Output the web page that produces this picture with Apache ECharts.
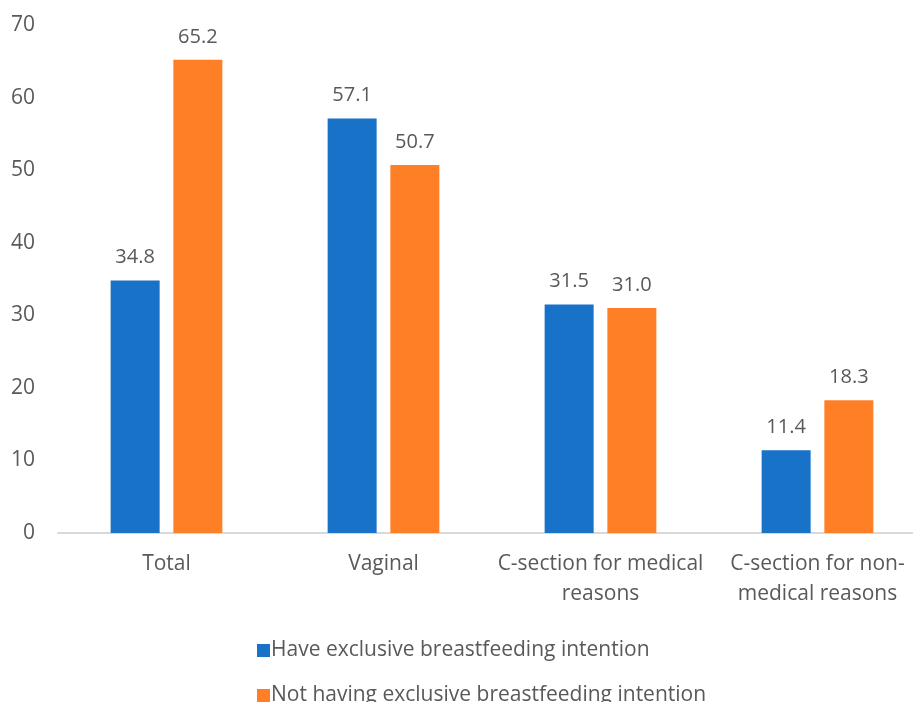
<!DOCTYPE html>
<html><head><meta charset="utf-8">
<script src="https://cdn.jsdelivr.net/npm/echarts@6/dist/echarts.min.js"></script>
<style>html,body{margin:0;padding:0;background:#fff}#c{width:913px;height:702px}</style>
</head><body><div id="c"></div>
<script>
const categories = ['Total', 'Vaginal', 'C-section for medical\nreasons', 'C-section for non-\nmedical reasons'];
const seriesNames = ['Have exclusive breastfeeding intention', 'Not having exclusive breastfeeding intention'];
const haveValues = [34.8, 57.1, 31.5, 11.4];
const notHaveValues = [65.2, 50.7, 31.0, 18.3];
const chart = echarts.init(document.getElementById('c'));
const font = '"Open Sans", sans-serif';
const lbl = {show: true, position: 'top', distance: 13, color: '#595959', fontSize: 20, fontFamily: font, formatter: p => p.value.toFixed(1)};
const legendBase = {left: 252, itemWidth: 13, itemHeight: 13, icon: 'rect', itemGap: 6,
  textStyle: {color: '#595959', fontSize: 21, fontFamily: font, padding: [0, 0, 0, -4]}};
chart.setOption({
  animation: false,
  grid: {left: 58, top: 25, right: -13, bottom: 169, outerBoundsMode: 'none', containLabel: false},
  legend: [
    Object.assign({}, legendBase, {top: 635, data: [seriesNames[0]]}),
    Object.assign({}, legendBase, {top: 680, data: [seriesNames[1]]})
  ],
  xAxis: {type: 'category', data: categories,
    axisLine: {lineStyle: {color: '#d9d9d9', width: 2}}, axisTick: {show: false},
    axisLabel: {color: '#595959', fontSize: 21, fontFamily: font, lineHeight: 30, margin: 16, interval: 0}},
  yAxis: {type: 'value', min: 0, max: 70, interval: 10,
    splitLine: {show: false}, axisLine: {show: false}, axisTick: {show: false},
    axisLabel: {color: '#595959', fontSize: 21, fontFamily: font, margin: 23}},
  series: [
    {name: seriesNames[0], type: 'bar', data: haveValues, barWidth: 49, barGap: '28%', itemStyle: {color: '#1872c8'}, label: lbl},
    {name: seriesNames[1], type: 'bar', data: notHaveValues, barWidth: 49, barGap: '28%', itemStyle: {color: '#ff7f27'}, label: lbl}
  ]
});
</script></body></html>
